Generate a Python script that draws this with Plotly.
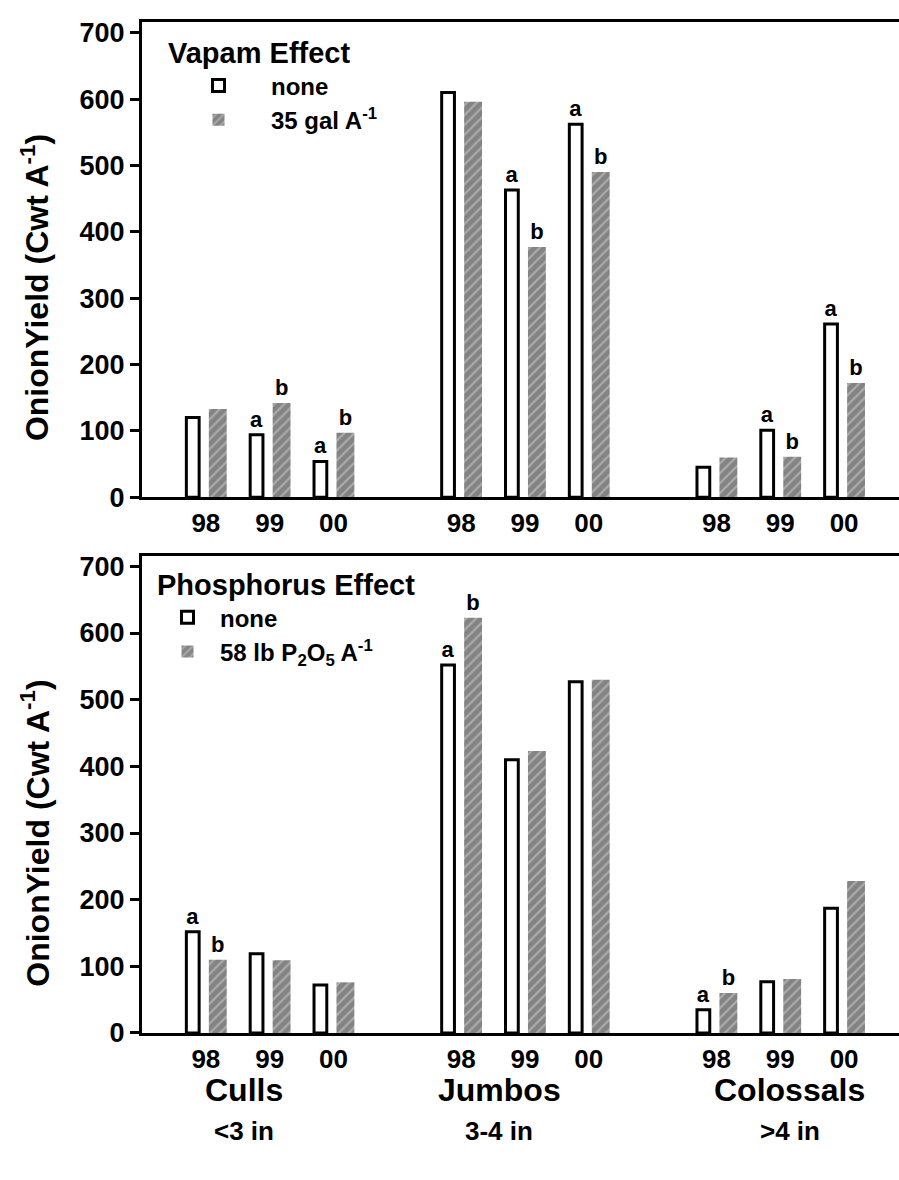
import plotly.graph_objects as go

# ---------------- data ----------------
years = ["98", "99", "00"]
classes = ["Culls", "Jumbos", "Colossals"]
class_sizes = ["<3 in", "3-4 in", ">4 in"]

# Vapam effect (top panel), order: Culls 98,99,00 | Jumbos 98,99,00 | Colossals 98,99,00
vapam_none = [120, 94, 54, 610, 463, 562, 45, 101, 261]
vapam_35gal = [133, 142, 97, 596, 377, 490, 60, 61, 172]
vapam_none_sig = ["", "a", "a", "", "a", "a", "", "a", "a"]
vapam_35gal_sig = ["", "b", "b", "", "b", "b", "", "b", "b"]

# Phosphorus effect (bottom panel)
phos_none = [152, 119, 72, 552, 410, 527, 35, 77, 187]
phos_58lb = [110, 109, 76, 623, 423, 530, 60, 81, 228]
phos_none_sig = ["a", "", "", "a", "", "", "a", "", ""]
phos_58lb_sig = ["b", "", "", "b", "", "", "b", "", ""]

y_ticks = [0, 100, 200, 300, 400, 500, 600, 700]
y_title = "OnionYield (Cwt A<sup>-1</sup>)"

# ---------------- layout helpers ----------------
W, H = 899, 1180
def py(px):
    return 1 - px / H

pos = [g * 4 + i for g in range(len(classes)) for i in range(len(years))]
tick_text = [years[i] for g in range(len(classes)) for i in range(len(years))]
class_x = [0.6, 4.6, 9.15]

BOLD = "Liberation Sans"

hatch = dict(shape="/", fgcolor="#d4d4d4", bgcolor="#838383", size=7, solidity=0.32)
sig_font = dict(family=BOLD, size=22, color="black", weight="bold")

fig = go.Figure()

def add_pair(none_vals, none_sig, trt_vals, trt_sig, trt_name, xa, ya, leg):
    fig.add_trace(go.Bar(
        x=pos, y=none_vals, name="none", legend=leg,
        width=0.2, offset=-0.305,
        marker=dict(color="white", line=dict(color="black", width=3)),
        text=none_sig, textposition="outside", textfont=sig_font,
        constraintext="none", cliponaxis=False,
        xaxis=xa, yaxis=ya,
    ))
    fig.add_trace(go.Bar(
        x=pos, y=trt_vals, name=trt_name, legend=leg,
        width=0.28, offset=0.047,
        marker=dict(color="#838383", line=dict(width=0), pattern=hatch),
        text=trt_sig, textposition="outside", textfont=sig_font,
        constraintext="none", cliponaxis=False,
        xaxis=xa, yaxis=ya,
    ))

add_pair(vapam_none, vapam_none_sig, vapam_35gal, vapam_35gal_sig,
         "35 gal A<sup>-1</sup>", "x", "y", "legend")
add_pair(phos_none, phos_none_sig, phos_58lb, phos_58lb_sig,
         "58 lb P<sub>2</sub>O<sub>5</sub> A<sup>-1</sup>", "x2", "y2", "legend2")

xcommon = dict(
    range=[-1.0, 10.86], domain=[142 / W, 1],
    showline=True, linecolor="black", linewidth=3, mirror=True,
    ticks="", showgrid=False, zeroline=False,
    tickmode="array", tickvals=pos, ticktext=tick_text,
    ticklabelstandoff=1,
    tickfont=dict(family=BOLD, size=26, color="black", weight="bold"),
)
ycommon = dict(
    showline=True, linecolor="black", linewidth=3,
    ticks="outside", ticklen=9, tickwidth=2.5, tickcolor="black",
    tickmode="array", tickvals=y_ticks,
    showgrid=False, zeroline=False,
    tickfont=dict(family=BOLD, size=27, color="black", weight="bold"),
)

fig.update_layout(
    width=W, height=H, autosize=False,
    margin=dict(l=0, r=0, t=0, b=0),
    paper_bgcolor="white", plot_bgcolor="white",
    barmode="overlay", showlegend=True,
    xaxis=dict(**xcommon, anchor="y"),
    xaxis2=dict(**xcommon, anchor="y2"),
    yaxis=dict(**ycommon, domain=[py(500.7), py(17)], range=[0, 716.7], anchor="x"),
    yaxis2=dict(**ycommon, domain=[py(1045.7), py(561)], range=[0, 714.8], anchor="x2"),
    legend=dict(
        x=166 / W, y=py(21), xanchor="left", yanchor="top",
        bgcolor="rgba(0,0,0,0)", itemwidth=95, tracegroupgap=0,
        title=dict(text="Vapam Effect",
                   font=dict(family=BOLD, size=29, color="black", weight="bold")),
        font=dict(family=BOLD, size=24, color="black", weight="bold"),
    ),
    legend2=dict(
        x=155 / W, y=py(562), xanchor="left", yanchor="top",
        bgcolor="rgba(0,0,0,0)", itemwidth=55, tracegroupgap=0,
        title=dict(text="Phosphorus Effect",
                   font=dict(family=BOLD, size=29, color="black", weight="bold")),
        font=dict(family=BOLD, size=24, color="black", weight="bold"),
    ),
)

# y-axis titles (placed slightly below the panel centre as in the original)
for ycen in (288, 843):
    fig.add_annotation(x=35 / W, y=py(ycen), xref="paper", yref="paper",
                       text=y_title, textangle=-90, showarrow=False,
                       xanchor="center", yanchor="middle",
                       font=dict(family=BOLD, size=32, color="black", weight="bold"))

for cx, name, size in zip(class_x, classes, class_sizes):
    fig.add_annotation(x=cx, y=py(1104), xref="x2", yref="paper", text=name,
                       showarrow=False, xanchor="center", yanchor="middle",
                       font=dict(family=BOLD, size=32, color="black", weight="bold"))
    fig.add_annotation(x=cx, y=py(1145), xref="x2", yref="paper", text=size,
                       showarrow=False, xanchor="center", yanchor="middle",
                       font=dict(family=BOLD, size=26, color="black", weight="bold"))

fig.write_html("out.html", post_script="document.body.style.margin='0px';",
               config={"displayModeBar": False})
